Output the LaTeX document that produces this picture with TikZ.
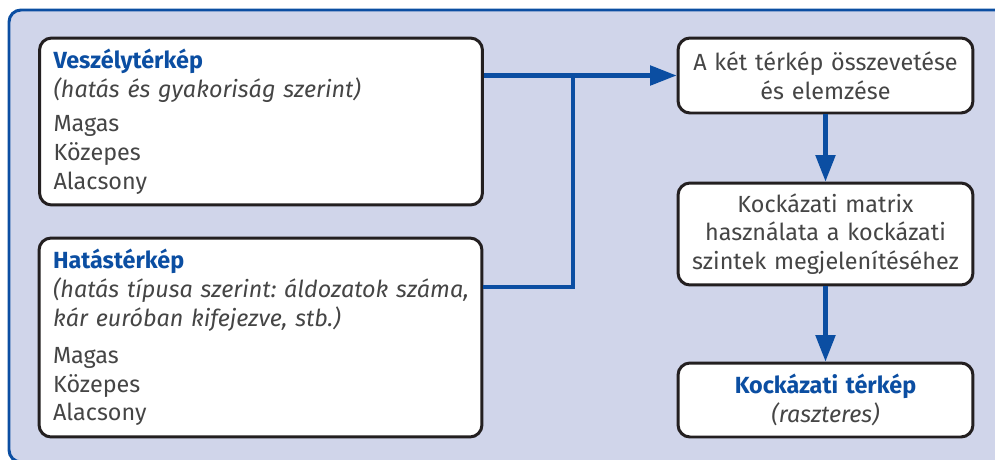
\documentclass[tikz,border=0pt]{standalone}
\usepackage{fontspec}
\setmainfont{Fira Sans}
\usetikzlibrary{arrows.meta,calc}
\definecolor{panelbg}{HTML}{D0D5EA}
\definecolor{euroblue}{HTML}{0B4EA2}
\definecolor{edge}{HTML}{231F20}
\definecolor{body}{HTML}{454545}
\frenchspacing

\begin{document}
\begin{tikzpicture}[x=0.02cm,y=-0.02cm,>={Triangle[length=15pt,width=11pt]},
    box/.style={draw=edge,line width=1.7pt,fill=white,rounded corners=0.24cm,
      text=body,font=\fontsize{13.3}{16.3}\selectfont},
    mapbox/.style={box,align=left,inner xsep=0.28cm,minimum width=8.86cm,
      text width=8.3cm},
    stepbox/.style={box,align=center,minimum width=5.9cm,text width=5.6cm},
    flow/.style={euroblue,line width=2.3pt}]
      \useasboundingbox (0,0) rectangle (995,460);
      \clip (0,0) rectangle (995,460);

      % background panel, open to the right and bottom
      \draw[euroblue,line width=1.7pt,fill=panelbg,rounded corners=0.24cm]
        (9,10) rectangle (1030,462);

      % the two input maps
      \node[mapbox,minimum height=3.34cm] (hazard) at (261,121.5)
        {{\color{euroblue}\bfseries Veszélytérkép}\\
         \textit{(hatás és gyakoriság szerint)}\\[3.5pt]
         Magas\\ Közepes\\ Alacsony};
      \node[mapbox,minimum height=3.98cm] (impact) at (260.5,337.5)
        {{\color{euroblue}\bfseries Hatástérkép}\\
         \mbox{\textit{(hatás típusa szerint: áldozatok száma,}}\\
         \textit{kár euróban kifejezve, stb.)}\\[5pt]
         Magas\\ Közepes\\ Alacsony};

      % processing steps
      \node[stepbox,minimum height=1.5cm] (compare) at (825.5,75.5)
        {A két térkép összevetése\\ és elemzése};
      \node[stepbox,minimum height=2.04cm] (matrix) at (825.5,234)
        {Kockázati matrix\\ használata a kockázati\\ szintek megjelenítéséhez};
      \node[stepbox,minimum height=1.48cm] (riskmap) at (825.5,400)
        {{\color{euroblue}\bfseries Kockázati térkép}\\ \textit{(raszteres)}};

      % connectors
      \coordinate (join) at (573,75.5);
      \draw[flow,->] (hazard.east |- compare.west) -- (compare.west);
      \draw[flow] ($(impact.north east)!0.25!(impact.south east)$) -| (join);
      \draw[flow,->] (compare) -- (matrix);
      \draw[flow,->] (matrix) -- (riskmap);
\end{tikzpicture}
\end{document}
